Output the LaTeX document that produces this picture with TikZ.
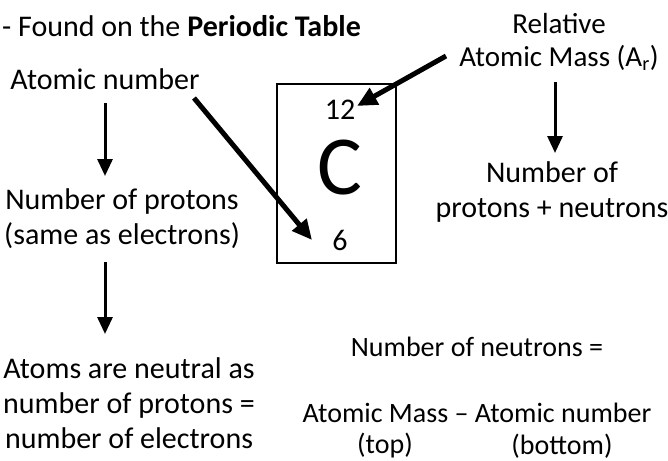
\documentclass[tikz,border=0pt]{standalone}
\usepackage{fontspec}
\setmainfont{Carlito}
\usetikzlibrary{arrows.meta}
\begin{document}
\begin{tikzpicture}[x=1pt,y=-1pt,
  txt/.style={inner sep=0pt, font=\fontsize{30}{35}\selectfont, align=center},
  small/.style={txt, font=\fontsize{28}{34}\selectfont},
  thinarrow/.style={line width=3pt, -{Triangle[length=17pt,width=15pt]}},
  thickarrow/.style={line width=5pt, -{Triangle[length=20pt,width=18pt]}}]
\useasboundingbox (0,0) rectangle (668,460);
\node[txt, anchor=west] (found) at (2,26) {- Found on the \textbf{Periodic Table}};
\node[txt] (atnum) at (105,79) {Atomic number};
\node[txt] (protons) at (122,219) {Number of protons\\(same as electrons)};
\node[txt] (neutral) at (129,403) {Atoms are neutral as\\number of protons =\\number of electrons};
\node[draw, line width=1.5pt, minimum width=119pt, minimum height=179pt, inner sep=0pt] (box) at (336.5,173.5) {};
\node[txt] (twelve) at (340,110) {12};
\node[inner sep=0pt, font=\fontsize{84}{84}\selectfont] (c) at (340,168) {C};
\node[txt] (six) at (340,240) {6};
\node[txt, font=\fontsize{29}{33}\selectfont] (ram) at (559,42) {Relative\\Atomic Mass (A\textsubscript{r})};
\node[txt] (pn) at (552,192) {Number of\\protons + neutrons};
\node[small] (nn) at (477,347) {Number of neutrons =};
\node[small] (formula) at (477,413) {Atomic Mass -- Atomic number};
\node[small] (top) at (385,446) {(top)};
\node[small] (bottom) at (562,446) {(bottom)};
\coordinate (a1s) at (105,103);
\coordinate (a1e) at (105,176);
\coordinate (a2s) at (105,262);
\coordinate (a2e) at (105,334);
\coordinate (a3s) at (555,82);
\coordinate (a3e) at (555,153);
\coordinate (d1s) at (194,98);
\coordinate (d1e) at (312,240);
\coordinate (d2s) at (446,56);
\coordinate (d2e) at (357,106);
\draw[thinarrow] (a1s) -- (a1e);
\draw[thinarrow] (a2s) -- (a2e);
\draw[thinarrow] (a3s) -- (a3e);
\draw[thickarrow] (d1s) -- (d1e);
\draw[thickarrow] (d2s) -- (d2e);
\end{tikzpicture}
\end{document}
